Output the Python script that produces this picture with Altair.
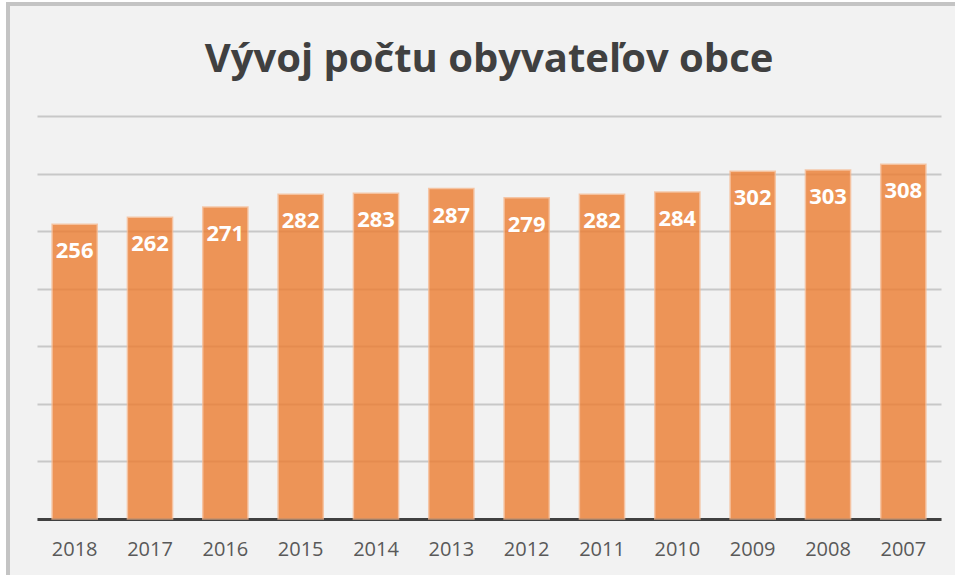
import altair as alt
import pandas as pd

years = ["2018", "2017", "2016", "2015", "2014", "2013", "2012", "2011", "2010", "2009", "2008", "2007"]
population = [256, 262, 271, 282, 283, 287, 279, 282, 284, 302, 303, 308]
chart_title = "Vývoj počtu obyvateľov obce"

df = pd.DataFrame({"rok": years, "obyvatelia": population})

FONT = "Open Sans"

x = alt.X("rok:N", sort=years, title=None,
          scale=alt.Scale(paddingInner=0.4, paddingOuter=0.2),
          axis=alt.Axis(labelAngle=0, labelFont=FONT, labelFontSize=20, labelColor="#595959",
                        labelPadding=20, ticks=False, domainColor="#404040", domainWidth=3,
                        grid=False))
y = alt.Y("obyvatelia:Q", title=None,
          scale=alt.Scale(domain=[0, 350], nice=False),
          axis=alt.Axis(values=[0, 50, 100, 150, 200, 250, 300, 350], labels=False, ticks=False,
                        domain=False, grid=True, gridColor="#c8c8c8", gridWidth=2))

outer = alt.Chart(df).mark_rect(filled=False, stroke="white", strokeWidth=14).encode(
    x=alt.value(-37.5), x2=alt.value(1000), y=alt.value(-120), y2=alt.value(600)
)

frame = alt.Chart(df).mark_rect(filled=False, stroke="#c4c4c4", strokeWidth=3).encode(
    x=alt.value(-29), x2=alt.value(930), y=alt.value(-112), y2=alt.value(470)
)

title = alt.Chart(pd.DataFrame({"t": [chart_title]})).mark_text(
    font=FONT, fontSize=40, fontWeight="bold", color="#404040", align="center",
    baseline="alphabetic"
).encode(x=alt.value(452), y=alt.value(-44), text="t:N")

bars = alt.Chart(df).mark_bar(color="#ed7d31", opacity=0.8, stroke="#f6b88e",
                              strokeWidth=1.5, strokeOpacity=0.9).encode(x=x, y=y)

labels = alt.Chart(df).mark_text(color="white", font=FONT, fontWeight="bold", fontSize=22,
                                 baseline="middle", dy=27).encode(
    x=alt.X("rok:N", sort=years), y=alt.Y("obyvatelia:Q"), text=alt.Text("obyvatelia:Q")
)

chart = alt.layer(outer, frame, title, bars, labels).properties(
    width=904, height=403,
    autosize=alt.AutoSizeParams(type="none"),
    padding={"left": 37, "top": 116, "right": 14, "bottom": 56},
    background="#f2f2f2",
).configure_view(stroke=None)

chart.save("out.html", embed_options={"renderer": "svg", "actions": False})
